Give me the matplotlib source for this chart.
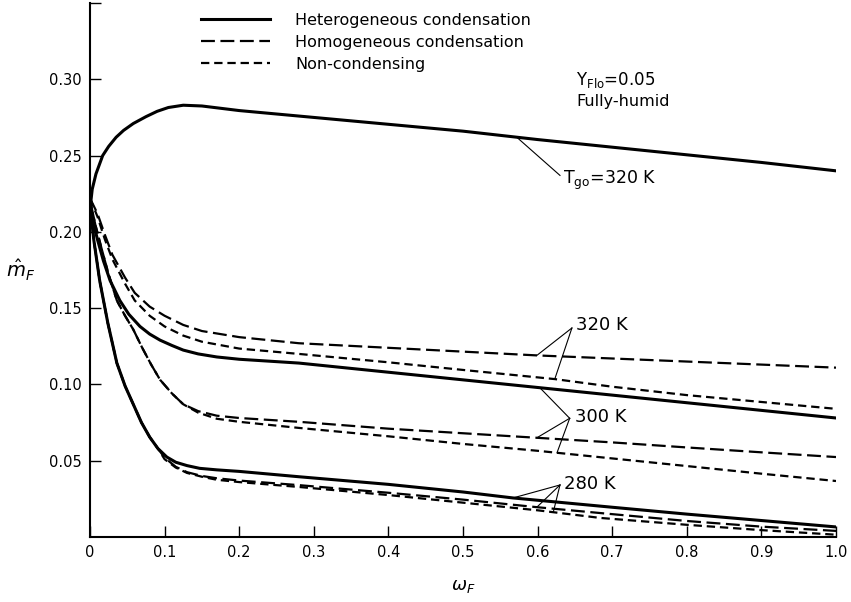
import numpy as np
import matplotlib

matplotlib.use("Agg")
import matplotlib.pyplot as plt

# --- curves (omega_F, m_F) ---
# heterogeneous condensation, Tg0 = 320 K (top curve)
x_het_320 = [0.0, 0.003, 0.008, 0.017, 0.025, 0.035, 0.045, 0.058, 0.075, 0.09, 0.105, 0.125, 0.15,
             0.2, 0.3, 0.4, 0.5, 0.6, 0.7, 0.8, 0.9, 1.0]
m_het_320 = [0.215, 0.228, 0.238, 0.250, 0.256, 0.262, 0.2665, 0.271, 0.2755, 0.279, 0.2815, 0.283, 0.2825,
             0.2795, 0.275, 0.2705, 0.266, 0.2605, 0.2555, 0.2505, 0.2455, 0.240]

# 320 K, homogeneous / non-condensing
x_hom_320 = [0.0, 0.01, 0.02, 0.03, 0.047, 0.06, 0.08, 0.1, 0.125, 0.15, 0.2, 0.28,
             0.4, 0.5, 0.6, 0.7, 0.8, 0.9, 1.0]
m_hom_320 = [0.222, 0.212, 0.198, 0.185, 0.170, 0.160, 0.151, 0.145, 0.139, 0.135, 0.131, 0.127,
             0.124, 0.1215, 0.119, 0.117, 0.115, 0.113, 0.111]
x_non_320 = [0.0, 0.01, 0.02, 0.03, 0.047, 0.06, 0.08, 0.1, 0.125, 0.15, 0.2, 0.28,
             0.4, 0.5, 0.623, 0.7, 0.8, 0.9, 1.0]
m_non_320 = [0.222, 0.210, 0.195, 0.182, 0.166, 0.155, 0.145, 0.138, 0.132, 0.128, 0.1235, 0.120,
             0.1145, 0.1095, 0.1035, 0.0985, 0.093, 0.0885, 0.084]

# 300 K
x_het_300 = [0.0, 0.005, 0.01, 0.018, 0.027, 0.04, 0.052, 0.067, 0.08, 0.094, 0.11, 0.125, 0.145, 0.17,
             0.2, 0.28, 0.4, 0.5, 0.6, 0.7, 0.8, 0.9, 1.0]
m_het_300 = [0.218, 0.205, 0.195, 0.181, 0.168, 0.155, 0.146, 0.138, 0.133, 0.129, 0.1255, 0.1225, 0.120, 0.118,
             0.1165, 0.114, 0.108, 0.103, 0.098, 0.093, 0.088, 0.083, 0.078]
x_hom_300 = [0.0, 0.007, 0.015, 0.025, 0.036, 0.047, 0.058, 0.07, 0.082, 0.094, 0.11, 0.125, 0.145, 0.17,
             0.2, 0.28, 0.4, 0.5, 0.6, 0.7, 0.8, 0.9, 1.0]
m_hom_300 = [0.221, 0.205, 0.190, 0.172, 0.155, 0.145, 0.136, 0.124, 0.113, 0.103, 0.094, 0.087, 0.0825, 0.0795,
             0.078, 0.0755, 0.071, 0.068, 0.065, 0.062, 0.0587, 0.0555, 0.0524]
x_non_300 = x_hom_300
m_non_300 = [0.221, 0.205, 0.190, 0.172, 0.155, 0.145, 0.136, 0.124, 0.113, 0.103, 0.094, 0.087, 0.0815, 0.0775,
             0.0755, 0.0715, 0.066, 0.061, 0.0565, 0.0515, 0.0465, 0.0415, 0.0367]

# 280 K
x_het_280 = [0.0, 0.005, 0.013, 0.024, 0.036, 0.047, 0.058, 0.069, 0.08, 0.091, 0.103, 0.115, 0.13, 0.147,
             0.17, 0.2, 0.28, 0.4, 0.5, 0.567, 0.7, 0.8, 0.9, 1.0]
m_het_280 = [0.218, 0.195, 0.168, 0.140, 0.114, 0.099, 0.087, 0.075, 0.0655, 0.058, 0.0524, 0.049, 0.0468, 0.045,
             0.044, 0.043, 0.0395, 0.0345, 0.0295, 0.0256, 0.0195, 0.015, 0.0108, 0.0066]
x_hom_280 = [0.0, 0.005, 0.013, 0.024, 0.036, 0.047, 0.058, 0.069, 0.08, 0.091, 0.1, 0.115, 0.13, 0.15,
             0.17, 0.2, 0.28, 0.4, 0.5, 0.6, 0.684, 0.8, 0.9, 1.0]
m_hom_280 = [0.218, 0.195, 0.168, 0.140, 0.114, 0.099, 0.087, 0.075, 0.0655, 0.058, 0.052, 0.046, 0.0425, 0.040,
             0.0385, 0.037, 0.034, 0.029, 0.0245, 0.0195, 0.0157, 0.0105, 0.0068, 0.004]
x_non_280 = x_hom_280
m_non_280 = [0.218, 0.195, 0.168, 0.140, 0.114, 0.099, 0.087, 0.075, 0.0655, 0.058, 0.051, 0.0455, 0.042, 0.0395,
             0.0375, 0.036, 0.0328, 0.0275, 0.0225, 0.0175, 0.0125, 0.008, 0.0045, 0.0015]

legend_labels = ["Heterogeneous condensation", "Homogeneous condensation", "Non-condensing"]
x_ticks = [0.0, 0.1, 0.2, 0.3, 0.4, 0.5, 0.6, 0.7, 0.8, 0.9, 1.0]
x_tick_labels = ["0", "0.1", "0.2", "0.3", "0.4", "0.5", "0.6", "0.7", "0.8", "0.9", "1.0"]
y_ticks = [0.05, 0.10, 0.15, 0.20, 0.25, 0.30, 0.35]
y_tick_labels = ["0.05", "0.10", "0.15", "0.20", "0.25", "0.30", ""]

plt.rcParams["lines.scale_dashes"] = False

SOLID = dict(color="black", lw=2.2, ls="-", solid_joinstyle="round")
HOMO = dict(color="black", lw=1.6, ls=(0, (10, 4)))
NONC = dict(color="black", lw=1.6, ls=(0, (6, 3.5)))


def pointer(ax, tip, ends):
    """Thin leader lines from a label to points on the curves."""
    for xe, ye in ends:
        ax.plot([tip[0], xe], [tip[1], ye], color="black", lw=0.8)


def main():
    fig = plt.figure(figsize=(8.51, 6.02), dpi=100)
    ax = fig.add_axes([90 / 851, 65 / 602, 746 / 851, 534 / 602])

    ax.plot(x_het_320, m_het_320, label=legend_labels[0], **SOLID)
    ax.plot(x_hom_320, m_hom_320, label=legend_labels[1], **HOMO)
    ax.plot(x_non_320, m_non_320, label=legend_labels[2], **NONC)
    ax.plot(x_het_300, m_het_300, **SOLID)
    ax.plot(x_hom_300, m_hom_300, **HOMO)
    ax.plot(x_non_300, m_non_300, **NONC)
    ax.plot(x_het_280, m_het_280, **SOLID)
    ax.plot(x_hom_280, m_hom_280, **HOMO)
    ax.plot(x_non_280, m_non_280, **NONC)

    # labels with leader lines
    xa = 0.572
    ax.plot([xa, 0.63], [np.interp(xa, x_het_320, m_het_320), 0.237], color="black", lw=0.8)
    ax.text(0.634, 0.234, r"T$_{\mathrm{go}}$=320 K", fontsize=12.5, va="center", ha="left")

    pointer(ax, (0.646, 0.137),
            [(0.599, np.interp(0.599, x_hom_320, m_hom_320)),
             (0.623, np.interp(0.623, x_non_320, m_non_320))])
    ax.text(0.652, 0.139, "320 K", fontsize=13, va="center", ha="left")

    pointer(ax, (0.643, 0.0778),
            [(0.603, np.interp(0.603, x_het_300, m_het_300)),
             (0.599, np.interp(0.599, x_hom_300, m_hom_300)),
             (0.626, np.interp(0.626, x_non_300, m_non_300))])
    ax.text(0.650, 0.0785, "300 K", fontsize=13, va="center", ha="left")

    pointer(ax, (0.630, 0.0341),
            [(0.567, np.interp(0.567, x_het_280, m_het_280)),
             (0.599, np.interp(0.599, x_hom_280, m_hom_280)),
             (0.621, np.interp(0.621, x_non_280, m_non_280))])
    ax.text(0.636, 0.0345, "280 K", fontsize=13, va="center", ha="left")

    ax.text(0.652, 0.2995, r"Y$_{\mathrm{Flo}}$=0.05", fontsize=12, va="center", ha="left")
    ax.text(0.652, 0.2855, "Fully-humid", fontsize=11.5, va="center", ha="left")

    ax.legend(loc="upper left", bbox_to_anchor=(0.1488, 0.982), frameon=False,
              fontsize=11.5, handlelength=4.3, handletextpad=1.6,
              labelspacing=0.45, borderpad=0, borderaxespad=0)

    ax.set_xlim(0, 1.0)
    ax.set_ylim(0, 0.35)
    ax.set_xticks(x_ticks)
    ax.set_xticklabels(x_tick_labels)
    ax.set_yticks(y_ticks)
    ax.set_yticklabels(y_tick_labels)
    ax.tick_params(direction="in", length=8, width=1.0, labelsize=10.5, pad=6)
    for side in ["top", "right"]:
        ax.spines[side].set_visible(False)
    for side in ["left", "bottom"]:
        ax.spines[side].set_linewidth(1.5)

    ax.set_xlabel(r"$\omega_F$", fontsize=13, labelpad=12)
    ax.set_ylabel(r"$\hat{m}_F$", fontsize=14, rotation=0, va="center", ha="center")
    ax.yaxis.set_label_coords(-0.093, 0.5)

    fig.savefig("out.png", dpi=100)


if __name__ == "__main__":
    main()
